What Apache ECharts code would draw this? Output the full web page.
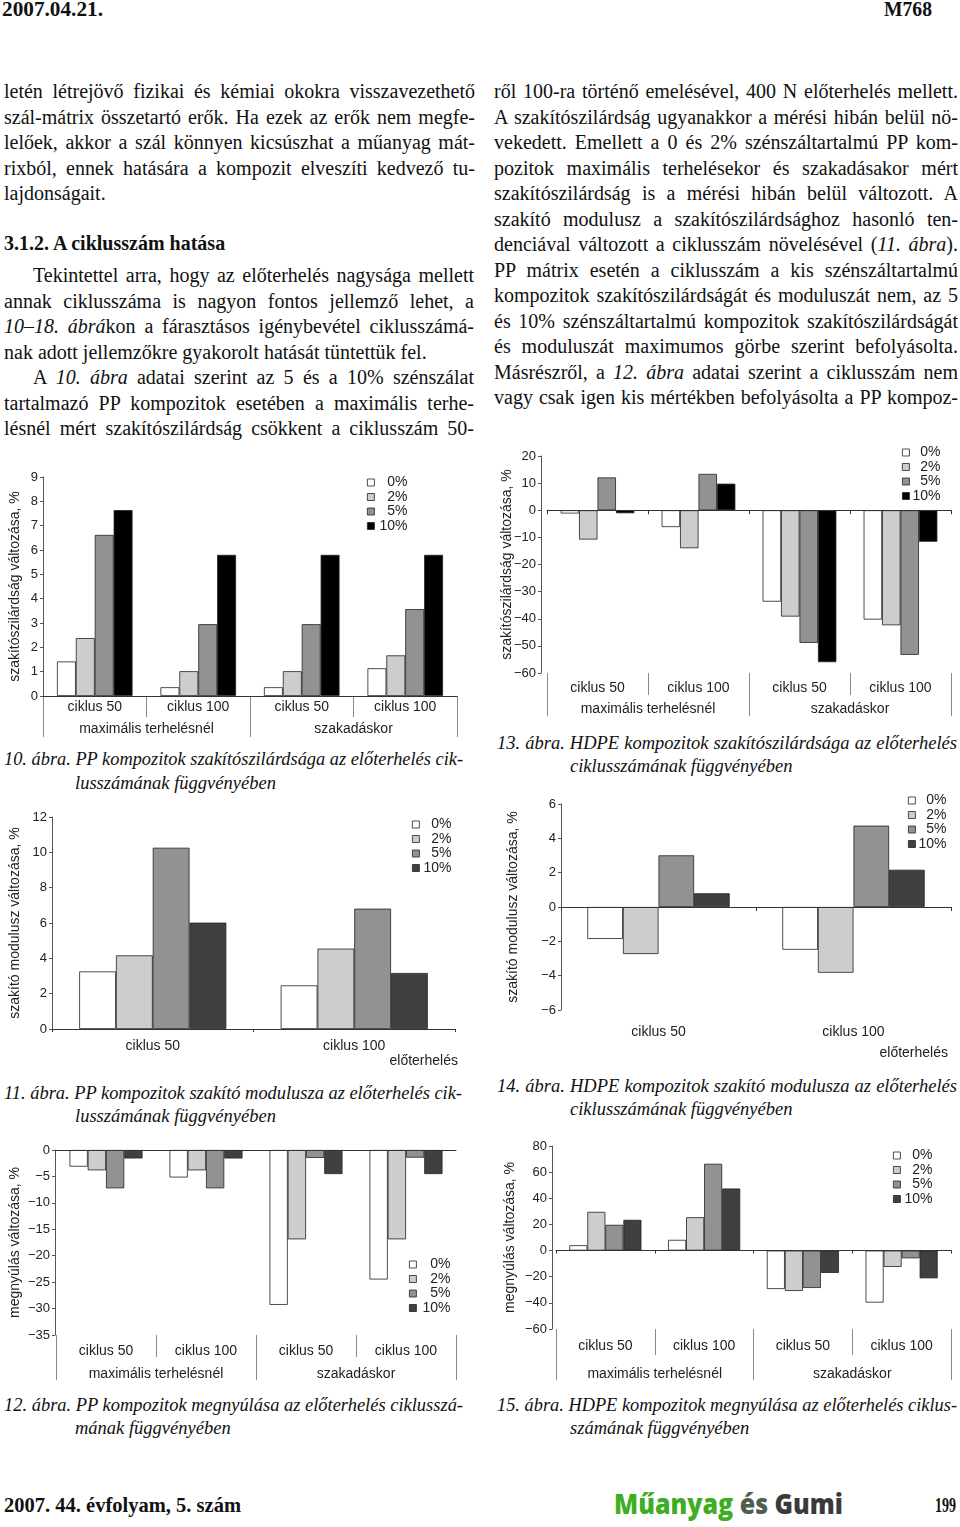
<!DOCTYPE html>
<html><head><meta charset="utf-8">
<script src="https://cdn.jsdelivr.net/npm/echarts/dist/echarts.min.js"></script>
<style>
html,body{margin:0;padding:0;background:#fff;}
#page{position:relative;width:960px;height:1527px;overflow:hidden;background:#fff;}
.ln{position:absolute;white-space:nowrap;font-family:'Liberation Serif','Times New Roman',serif;color:#111;}
.ln .in{white-space:nowrap;display:inline-block;transform-origin:0 50%;}
.body{font-size:20px;line-height:24px;height:24px;}
.cap{font-size:18.5px;line-height:22px;height:22px;font-style:italic;}
.hdr{font-size:22px;line-height:24px;height:24px;font-weight:bold;}
.logo{font-family:'Open Sans','Inter',sans-serif;font-weight:800;font-size:28px;line-height:32px;height:32px;}
.ch{position:absolute;}
</style></head>
<body><div id="page"></div>
<script>
// ---------- chart data ----------
const cats4 = ['ciklus 50', 'ciklus 100', 'ciklus 50', 'ciklus 100'];
const cats2 = ['ciklus 50', 'ciklus 100'];
const groups = ['maximális terhelésnél', 'szakadáskor'];
const legendNames = ['0%', '2%', '5%', '10%'];
const preloadLabel = 'előterhelés';

// 10. ábra – PP szakítószilárdság
const f10_p0 = [1.42, 0.36, 0.36, 1.14];
const f10_p2 = [2.38, 1.02, 1.02, 1.67];
const f10_p5 = [6.62, 2.95, 2.95, 3.57];
const f10_p10 = [7.64, 5.8, 5.8, 5.8];
// 11. ábra – PP szakító modulusz
const f11_p0 = [3.26, 2.47];
const f11_p2 = [4.17, 4.55];
const f11_p5 = [10.26, 6.81];
const f11_p10 = [6.02, 3.17];
// 12. ábra – PP megnyúlás
const f12_p0 = [-3.15, -5.2, -29.3, -24.5];
const f12_p2 = [-3.85, -3.85, -16.9, -16.9];
const f12_p5 = [-7.25, -7.25, -1.5, -1.45];
const f12_p10 = [-1.6, -1.6, -4.55, -4.55];
// 13. ábra – HDPE szakítószilárdság
const f13_p0 = [-1.2, -6.2, -33.7, -40.3];
const f13_p2 = [-10.8, -14.0, -39.2, -42.4];
const f13_p5 = [12.1, 13.4, -48.9, -53.3];
const f13_p10 = [-1.1, 9.8, -56.0, -11.6];
// 14. ábra – HDPE szakító modulusz
const f14_p0 = [-1.86, -2.49];
const f14_p2 = [-2.74, -3.83];
const f14_p5 = [3.01, 4.74];
const f14_p10 = [0.8, 2.17];
// 15. ábra – HDPE megnyúlás
const f15_p0 = [4.1, 8.2, -29.4, -39.8];
const f15_p2 = [29.6, 25.5, -30.9, -12.5];
const f15_p5 = [19.7, 66.4, -28.6, -5.9];
const f15_p10 = [23.5, 47.5, -17.1, -21.2];

// ---------- page text ----------
const page = document.getElementById('page');
const lines = [
  // header / footer
  [2, 9, 101, '2007.04.21.', 'f', 'hdr'],
  [884, 9, 48, 'M768', 'f', 'hdr'],
  [4, 1505, 237, '2007. 44. évfolyam, 5. szám', 'f', 'hdr'],
  [935, 1505, 21, '199', 'f', 'hdr'],
  [614, 1503, 229, '<span style="color:#3dae23">Műanyag</span> <span style="color:#4f5f4f">és</span> <span style="color:#3a3a3a">Gumi</span>', 'f', 'logo'],
  // left column
  [4, 91, 471, 'letén létrejövő fizikai és kémiai okokra visszavezethető', 'j', 'body'],
  [4, 117, 471, 'szál-mátrix összetartó erők. Ha ezek az erők nem megfe-', 'j', 'body'],
  [4, 142, 471, 'lelőek, akkor a szál könnyen kicsúszhat a műanyag mát-', 'j', 'body'],
  [4, 168, 471, 'rixból, ennek hatására a kompozit elveszíti kedvező tu-', 'j', 'body'],
  [4, 193, 0, 'lajdonságait.', 'l', 'body'],
  [4, 243, 0, '<b>3.1.2. A ciklusszám hatása</b>', 'l', 'body'],
  [33, 275, 441, 'Tekintettel arra, hogy az előterhelés nagysága mellett', 'j', 'body'],
  [4, 301, 470, 'annak ciklusszáma is nagyon fontos jellemző lehet, a', 'j', 'body'],
  [4, 326, 470, '<i>10–18. ábrá</i>kon a fárasztásos igénybevétel ciklusszámá-', 'j', 'body'],
  [4, 352, 0, 'nak adott jellemzőkre gyakorolt hatását tüntettük fel.', 'l', 'body'],
  [33, 377, 441, 'A <i>10. ábra</i> adatai szerint az 5 és a 10% szénszálat', 'j', 'body'],
  [4, 403, 470, 'tartalmazó PP kompozitok esetében a maximális terhe-', 'j', 'body'],
  [4, 428, 470, 'lésnél mért szakítószilárdság csökkent a ciklusszám 50-', 'j', 'body'],
  // right column
  [494, 91, 464, 'ről 100-ra történő emelésével, 400 N előterhelés mellett.', 'j', 'body'],
  [494, 117, 464, 'A szakítószilárdság ugyanakkor a mérési hibán belül nö-', 'j', 'body'],
  [494, 142, 464, 'vekedett. Emellett a 0 és 2% szénszáltartalmú PP kom-', 'j', 'body'],
  [494, 168, 464, 'pozitok maximális terhelésekor és szakadásakor mért', 'j', 'body'],
  [494, 193, 464, 'szakítószilárdság is a mérési hibán belül változott. A', 'j', 'body'],
  [494, 219, 464, 'szakító modulusz a szakítószilárdsághoz hasonló ten-', 'j', 'body'],
  [494, 244, 464, 'denciával változott a ciklusszám növelésével (<i>11. ábra</i>).', 'j', 'body'],
  [494, 270, 464, 'PP mátrix esetén a ciklusszám a kis szénszáltartalmú', 'j', 'body'],
  [494, 295, 464, 'kompozitok szakítószilárdságát és moduluszát nem, az 5', 'j', 'body'],
  [494, 321, 464, 'és 10% szénszáltartalmú kompozitok szakítószilárdságát', 'j', 'body'],
  [494, 346, 464, 'és moduluszát maximumos görbe szerint befolyásolta.', 'j', 'body'],
  [494, 372, 464, 'Másrészről, a <i>12. ábra</i> adatai szerint a ciklusszám nem', 'j', 'body'],
  [494, 397, 464, 'vagy csak igen kis mértékben befolyásolta a PP kompoz-', 'j', 'body'],
  // captions
  [4, 759, 459, '10. ábra. PP kompozitok szakítószilárdsága az előterhelés cik-', 'j', 'cap'],
  [75, 783, 0, 'lusszámának függvényében', 'l', 'cap'],
  [4, 1093, 458, '11. ábra. PP kompozitok szakító modulusza az előterhelés cik-', 'j', 'cap'],
  [75, 1116, 0, 'lusszámának függvényében', 'l', 'cap'],
  [4, 1405, 459, '12. ábra. PP kompozitok megnyúlása az előterhelés ciklusszá-', 'j', 'cap'],
  [75, 1428, 0, 'mának függvényében', 'l', 'cap'],
  [497, 743, 460, '13. ábra. HDPE kompozitok szakítószilárdsága az előterhelés', 'j', 'cap'],
  [570, 766, 0, 'ciklusszámának függvényében', 'l', 'cap'],
  [497, 1086, 460, '14. ábra. HDPE kompozitok szakító modulusza az előterhelés', 'j', 'cap'],
  [570, 1109, 0, 'ciklusszámának függvényében', 'l', 'cap'],
  [497, 1405, 460, '15. ábra. HDPE kompozitok megnyúlása az előterhelés ciklus-', 'j', 'cap'],
  [570, 1428, 0, 'számának függvényében', 'l', 'cap']
];
const lh = {body: 24, cap: 22, hdr: 24, logo: 32};
lines.forEach(([x, cy, w, html, mode, cls]) => {
  const el = document.createElement('div');
  el.className = 'ln ' + cls;
  el.style.left = x + 'px';
  el.style.top = (cy - lh[cls] / 2) + 'px';
  el.innerHTML = '<span class="in">' + html + '</span>';
  page.appendChild(el);
  const inner = el.firstElementChild;
  const nat = inner.getBoundingClientRect().width;
  if (mode === 'j' && w > 0) {
    const spaces = (inner.textContent.match(/ /g) || []).length;
    if (nat < w && spaces) {
      inner.style.wordSpacing = ((w - nat) / spaces) + 'px';
    } else if (nat > w) {
      inner.style.transform = 'scaleX(' + (w / nat) + ')';
    }
  } else if (mode === 'f' && w > 0) {
    inner.style.transform = 'scaleX(' + (w / nat) + ')';
  }
});

// ---------- charts ----------
function axisNum(v) { return v < 0 ? '\u2212' + Math.abs(v) : String(v); }

function buildChart(c) {
  const [bl, bt, bw, bh] = c.box;
  const div = document.createElement('div');
  div.className = 'ch';
  Object.assign(div.style, {left: bl + 'px', top: bt + 'px', width: bw + 'px', height: bh + 'px'});
  page.appendChild(div);
  const chart = echarts.init(div, null, {renderer: 'canvas'});
  const [x0, y0, x1, y1] = c.grid;
  const axisCol = '#333', sepCol = '#8a8a8a', txt = '#222';
  const xAxes = [{
    type: 'category', data: c.cats, position: 'bottom', gridIndex: 0, z: 5,
    axisLine: {show: true, onZero: true, lineStyle: {color: axisCol, width: 1}},
    axisTick: {show: c.mainTick > 0, length: c.mainTick, interval: 0, lineStyle: {color: axisCol}},
    axisLabel: {show: false}, splitLine: {show: false}
  }, {
    type: 'category', data: c.cats, position: 'bottom', gridIndex: 0,
    axisLine: {show: false, onZero: false},
    axisTick: {show: c.catSep > 0, length: c.catSep, interval: 0, lineStyle: {color: sepCol}},
    axisLabel: {interval: 0, margin: c.catMargin, fontSize: 14, color: txt},
    splitLine: {show: false}
  }];
  if (c.groups) {
    xAxes.push({
      type: 'category', data: c.groups, position: 'bottom', gridIndex: 0,
      axisLine: {show: false, onZero: false},
      axisTick: {show: true, length: c.groupSep, interval: 0, lineStyle: {color: sepCol}},
      axisLabel: {interval: 0, margin: c.groupMargin, fontSize: 14, color: txt},
      splitLine: {show: false}
    });
  }
  const colors = ['#ffffff', '#cdcdcd', '#929292', c.color10];
  const series = c.values.map((d, i) => ({
    type: 'bar', name: legendNames[i], data: d, xAxisIndex: 0, yAxisIndex: 0,
    barGap: '0%', barCategoryGap: '27%',
    itemStyle: {color: colors[i], borderColor: '#222', borderWidth: 0.8},
    emphasis: {disabled: true}
  }));
  const option = {
    animation: false,
    textStyle: {fontFamily: "'Liberation Sans', Arial, sans-serif"},
    grid: {left: x0 - bl, top: y0 - bt, width: x1 - x0, height: y1 - y0, containLabel: false, outerBoundsMode: 'none'},
    xAxis: xAxes,
    yAxis: {
      type: 'value', min: c.yMin, max: c.yMax, interval: c.yInt, offset: c.yOffset || 0,
      axisLine: {show: true, onZero: false, lineStyle: {color: '#555'}},
      axisTick: {show: true, length: 3, lineStyle: {color: '#555'}},
      splitLine: {show: false},
      axisLabel: {fontSize: 13, color: txt, margin: 5, formatter: axisNum},
      name: c.yName, nameLocation: 'middle', nameGap: c.nameGap, nameRotate: 90,
      nameMoveOverlap: false,
      nameTextStyle: {fontSize: 14, color: txt}
    },
    legend: {
      orient: 'vertical', left: c.leg.sq - bl, top: c.leg.fc - 7.5 - bt,
      itemWidth: 7, itemHeight: 7, itemGap: 0.5, padding: 0, icon: 'rect',
      selectedMode: false, data: legendNames,
      itemStyle: {borderColor: '#222', borderWidth: 0.8},
      formatter: n => '{a|' + n + '}',
      textStyle: {rich: {a: {width: c.leg.tr - c.leg.sq - 12, align: 'right', fontSize: 14, lineHeight: 15, color: txt}}}
    },
    series: series
  };
  if (c.extra) {
    option.title = {
      text: c.extra.text, right: (bl + bw) - c.extra.right, top: c.extra.cy - 8 - bt, padding: 0,
      textStyle: {fontSize: 14, fontWeight: 'normal', color: txt}
    };
  }
  chart.setOption(option);
}

buildChart({
  box: [0, 455, 470, 295], grid: [43, 477, 457, 696], yMin: 0, yMax: 9, yInt: 1, yOffset: 0,
  yName: 'szakítószilárdság változása, %', nameGap: 21,
  cats: cats4, groups: groups, mainTick: 0, catMargin: 4, catSep: 21, groupMargin: 26, groupSep: 41,
  color10: '#000000', values: [f10_p0, f10_p2, f10_p5, f10_p10],
  leg: {sq: 367, tr: 407, fc: 483}
});
buildChart({
  box: [0, 800, 470, 275], grid: [52, 817, 455, 1029], yMin: 0, yMax: 12, yInt: 2, yOffset: 0,
  yName: 'szakító modulusz változása, %', nameGap: 30,
  cats: cats2, mainTick: 3, catMargin: 10, catSep: 0,
  color10: '#404040', values: [f11_p0, f11_p2, f11_p5, f11_p10],
  leg: {sq: 412, tr: 451, fc: 825}, extra: {text: preloadLabel, right: 458, cy: 1062}
});
buildChart({
  box: [0, 1135, 470, 255], grid: [56, 1150, 456, 1335], yMin: -35, yMax: 0, yInt: 5, yOffset: 1,
  yName: 'megnyúlás változása, %', nameGap: 33,
  cats: cats4, groups: groups, mainTick: 0, catMargin: 9, catSep: 22, groupMargin: 32, groupSep: 45,
  color10: '#404040', values: [f12_p0, f12_p2, f12_p5, f12_p10],
  leg: {sq: 409, tr: 450, fc: 1265}
});
buildChart({
  box: [490, 440, 470, 290], grid: [547, 456, 951, 673], yMin: -60, yMax: 20, yInt: 10, yOffset: 6,
  yName: 'szakítószilárdság változása, %', nameGap: 27,
  cats: cats4, groups: groups, mainTick: 4, catMargin: 8, catSep: 22, groupMargin: 29, groupSep: 43,
  color10: '#000000', values: [f13_p0, f13_p2, f13_p5, f13_p10],
  leg: {sq: 902, tr: 940, fc: 453}
});
buildChart({
  box: [490, 785, 470, 285], grid: [561, 804, 951, 1010], yMin: -6, yMax: 6, yInt: 2, yOffset: 0,
  yName: 'szakító modulusz változása, %', nameGap: 41,
  cats: cats2, mainTick: 4, catMargin: 15, catSep: 0,
  color10: '#404040', values: [f14_p0, f14_p2, f14_p5, f14_p10],
  leg: {sq: 908, tr: 946, fc: 801}, extra: {text: preloadLabel, right: 948, cy: 1054}
});
buildChart({
  box: [490, 1130, 470, 260], grid: [556, 1146, 951, 1329], yMin: -60, yMax: 80, yInt: 20, yOffset: 4,
  yName: 'megnyúlás változása, %', nameGap: 35,
  cats: cats4, groups: groups, mainTick: 3, catMargin: 10, catSep: 26, groupMargin: 38, groupSep: 51,
  color10: '#404040', values: [f15_p0, f15_p2, f15_p5, f15_p10],
  leg: {sq: 893, tr: 932, fc: 1156}
});
</script>
</body></html>
